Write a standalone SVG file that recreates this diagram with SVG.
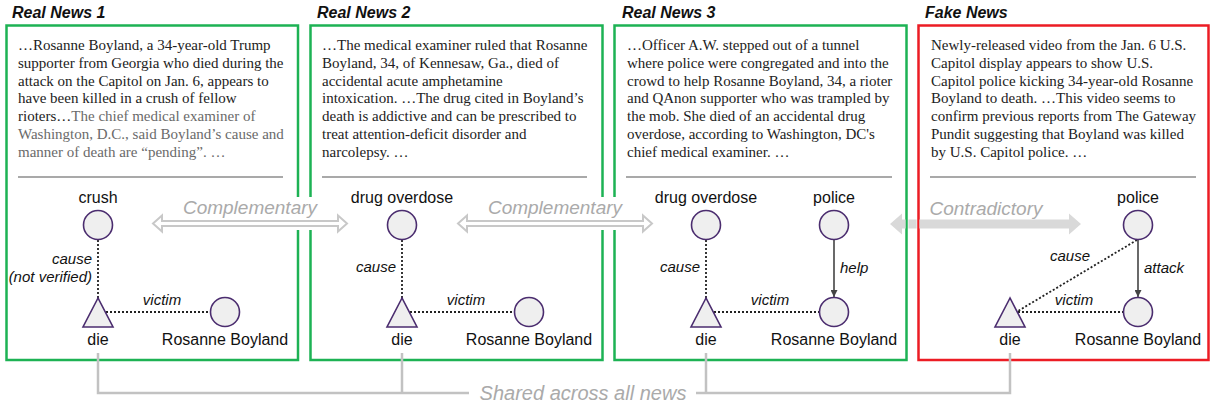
<svg xmlns="http://www.w3.org/2000/svg" width="1210" height="408" viewBox="0 0 1210 408">
<style>
.title{font-family:"Liberation Sans",Arial,sans-serif;font-size:16px;font-weight:bold;font-style:italic;fill:#111}
.body{font-family:"Liberation Serif","Times New Roman",serif;font-size:15px;fill:#222}
.dim{fill:#6a6a6a}
.frame{fill:none;stroke-width:2.5}
.real{stroke:#1db254}
.fake{stroke:#ec1c24}
.sep{stroke:#555;stroke-width:1.2}
.lbl{font-family:"Liberation Sans",Arial,sans-serif;font-size:16px;fill:#111}
.elbl{font-family:"Liberation Sans",Arial,sans-serif;font-size:15px;font-style:italic;fill:#111}
.ent{fill:#efefef;stroke:#4b2d6f;stroke-width:1.6}
.dot{stroke:#222;stroke-width:1.8;stroke-dasharray:2 2;fill:none}
.solid{stroke:#444;stroke-width:1.6;fill:none}
.rel{font-family:"Liberation Sans",Arial,sans-serif;font-size:19px;font-style:italic;fill:#aaa}
.hollow{fill:#fff;stroke:#c8c8c8;stroke-width:2}
.bracket{fill:none;stroke:#c2c2c2;stroke-width:2.5}
</style>
<defs>
<marker id="ah" viewBox="0 0 10 10" refX="10" refY="5" markerWidth="7" markerHeight="7" markerUnits="userSpaceOnUse" orient="auto">
<path d="M0,0 L10,5 L0,10 z" fill="#444"/>
</marker>
<clipPath id="gapclip">
<rect x="880" y="200" width="25.6" height="50"/>
<rect x="908.4" y="200" width="8.2" height="50"/>
<rect x="919.4" y="200" width="180" height="50"/>
</clipPath>
</defs>
<rect width="1210" height="408" fill="#fff"/>

<g id="panel-real-1">
<text class="title" x="12" y="18">Real News 1</text>
<rect class="frame real" x="6.5" y="25.5" width="291.5" height="334.5"/>
<text class="body" x="18"><tspan x="18" y="50">…Rosanne Boyland, a 34-year-old Trump</tspan><tspan x="18" y="67.8">supporter from Georgia who died during the</tspan><tspan x="18" y="85.6">attack on the Capitol on Jan. 6, appears to</tspan><tspan x="18" y="103.4">have been killed in a crush of fellow</tspan><tspan x="18" y="121.2">rioters…<tspan class="dim">The chief medical examiner of</tspan></tspan><tspan class="dim" x="18" y="139">Washington, D.C., said Boyland’s cause and</tspan><tspan class="dim" x="18" y="156.8">manner of death are “pending”. …</tspan></text>
<line class="sep" x1="18" y1="177" x2="283" y2="177"/>
</g>
<g id="panel-real-2">
<text class="title" x="317" y="18">Real News 2</text>
<rect class="frame real" x="310.5" y="25.5" width="292" height="334.5"/>
<text class="body"><tspan x="322" y="50">…The medical examiner ruled that Rosanne</tspan><tspan x="322" y="67.8">Boyland, 34, of Kennesaw, Ga., died of</tspan><tspan x="322" y="85.6">accidental acute amphetamine</tspan><tspan x="322" y="103.4">intoxication. …The drug cited in Boyland’s</tspan><tspan x="322" y="121.2">death is addictive and can be prescribed to</tspan><tspan x="322" y="139">treat attention-deficit disorder and</tspan><tspan x="322" y="156.8">narcolepsy. …</tspan></text>
<line class="sep" x1="322" y1="177" x2="587" y2="177"/>
</g>
<g id="panel-real-3">
<text class="title" x="622" y="18">Real News 3</text>
<rect class="frame real" x="614.5" y="25.5" width="292" height="334.5"/>
<text class="body"><tspan x="627" y="50">…Officer A.W. stepped out of a tunnel</tspan><tspan x="627" y="67.8">where police were congregated and into the</tspan><tspan x="627" y="85.6">crowd to help Rosanne Boyland, 34, a rioter</tspan><tspan x="627" y="103.4">and QAnon supporter who was trampled by</tspan><tspan x="627" y="121.2">the mob. She died of an accidental drug</tspan><tspan x="627" y="139">overdose, according to Washington, DC's</tspan><tspan x="627" y="156.8">chief medical examiner. …</tspan></text>
<line class="sep" x1="626" y1="177" x2="892" y2="177"/>
</g>
<g id="panel-fake">
<text class="title" x="925" y="18">Fake News</text>
<rect class="frame fake" x="918.5" y="25.5" width="290" height="334.5"/>
<text class="body"><tspan x="931" y="50">Newly-released video from the Jan. 6 U.S.</tspan><tspan x="931" y="67.8">Capitol display appears to show U.S.</tspan><tspan x="931" y="85.6">Capitol police kicking 34-year-old Rosanne</tspan><tspan x="931" y="103.4">Boyland to death. …This video seems to</tspan><tspan x="931" y="121.2">confirm previous reports from The Gateway</tspan><tspan x="931" y="139">Pundit suggesting that Boyland was killed</tspan><tspan x="931" y="156.8">by U.S. Capitol police. …</tspan></text>
<line class="sep" x1="930" y1="177" x2="1196" y2="177"/>
</g>

<g id="connectors">
<!-- panel 1 edges -->
<line class="dot" x1="98" y1="240" x2="98" y2="298"/>
<text class="elbl" x="92" y="264" text-anchor="end">cause</text>
<text class="elbl" x="92" y="282" text-anchor="end">(not verified)</text>
<line class="dot" x1="106" y1="312" x2="210" y2="312"/>
<text class="elbl" x="162" y="305" text-anchor="middle">victim</text>
<!-- panel 2 edges -->
<line class="dot" x1="402" y1="240" x2="402" y2="298"/>
<text class="elbl" x="396" y="272" text-anchor="end">cause</text>
<line class="dot" x1="410" y1="312" x2="514" y2="312"/>
<text class="elbl" x="466" y="305" text-anchor="middle">victim</text>
<!-- panel 3 edges -->
<line class="dot" x1="706" y1="240" x2="706" y2="298"/>
<text class="elbl" x="700" y="272" text-anchor="end">cause</text>
<line class="dot" x1="714" y1="312" x2="819" y2="312"/>
<text class="elbl" x="770" y="305" text-anchor="middle">victim</text>
<line class="solid" x1="834" y1="240" x2="834" y2="297" marker-end="url(#ah)"/>
<text class="elbl" x="840" y="273">help</text>
<!-- panel 4 edges -->
<line class="dot" x1="1137" y1="240" x2="1018" y2="311"/>
<text class="elbl" x="1070" y="261" text-anchor="middle">cause</text>
<line class="dot" x1="1018" y1="312" x2="1123" y2="312"/>
<text class="elbl" x="1074" y="305" text-anchor="middle">victim</text>
<line class="solid" x1="1138" y1="240" x2="1138" y2="297" marker-end="url(#ah)"/>
<text class="elbl" x="1144" y="273">attack</text>
<!-- cross-panel relations -->
<g id="rel-complementary-1">
<rect x="178" y="197" width="144" height="33" fill="#fff"/>
<polygon class="hollow" points="153,223.5 162,215.5 162,221 338,221 338,215.5 347,223.5 338,231.5 338,226 162,226 162,231.5"/>
<text class="rel" x="250" y="214" text-anchor="middle">Complementary</text>
</g>
<g id="rel-complementary-2">
<rect x="483" y="197" width="144" height="33" fill="#fff"/>
<polygon class="hollow" points="458,223.5 467,215.5 467,221 643,221 643,215.5 652,223.5 643,231.5 643,226 467,226 467,231.5"/>
<text class="rel" x="555" y="214" text-anchor="middle">Complementary</text>
</g>
<g id="rel-contradictory">
<polygon clip-path="url(#gapclip)" fill="#d9d9d9" points="890,224 902,213.5 902,219.5 1069,219.5 1069,213.5 1081,224 1069,234.5 1069,228.5 902,228.5 902,234.5"/>
<text class="rel" x="986" y="215" text-anchor="middle">Contradictory</text>
</g>
<g id="rel-shared">
<path class="bracket" d="M98,353 V393 H469 M696,393 H1010 V353 M402,353 V393 M706,353 V393"/>
<text class="rel" style="font-size:20px" x="583" y="400" text-anchor="middle">Shared across all news</text>
</g>
</g>

<g id="p1-crush"><circle class="ent" cx="98" cy="225" r="14.5"/><text class="lbl" x="98" y="203" text-anchor="middle">crush</text></g>
<g id="p1-die"><polygon class="ent" points="98,298 83,327 113,327"/><text class="lbl" x="98" y="345" text-anchor="middle">die</text></g>
<g id="p1-rosanne"><circle class="ent" cx="225" cy="312" r="14.5"/><text class="lbl" x="225" y="345" text-anchor="middle">Rosanne Boyland</text></g>

<g id="p2-overdose"><circle class="ent" cx="402" cy="225" r="14.5"/><text class="lbl" x="402" y="203" text-anchor="middle">drug overdose</text></g>
<g id="p2-die"><polygon class="ent" points="402,298 387,327 417,327"/><text class="lbl" x="402" y="345" text-anchor="middle">die</text></g>
<g id="p2-rosanne"><circle class="ent" cx="529" cy="312" r="14.5"/><text class="lbl" x="529" y="345" text-anchor="middle">Rosanne Boyland</text></g>

<g id="p3-overdose"><circle class="ent" cx="706" cy="225" r="14.5"/><text class="lbl" x="706" y="203" text-anchor="middle">drug overdose</text></g>
<g id="p3-police"><circle class="ent" cx="834" cy="225" r="14.5"/><text class="lbl" x="834" y="203" text-anchor="middle">police</text></g>
<g id="p3-die"><polygon class="ent" points="706,298 691,327 721,327"/><text class="lbl" x="706" y="345" text-anchor="middle">die</text></g>
<g id="p3-rosanne"><circle class="ent" cx="834" cy="312" r="14.5"/><text class="lbl" x="834" y="345" text-anchor="middle">Rosanne Boyland</text></g>

<g id="p4-police"><circle class="ent" cx="1138" cy="225" r="14.5"/><text class="lbl" x="1138" y="203" text-anchor="middle">police</text></g>
<g id="p4-die"><polygon class="ent" points="1010,298 995,327 1025,327"/><text class="lbl" x="1010" y="345" text-anchor="middle">die</text></g>
<g id="p4-rosanne"><circle class="ent" cx="1138" cy="312" r="14.5"/><text class="lbl" x="1138" y="345" text-anchor="middle">Rosanne Boyland</text></g>
</svg>
